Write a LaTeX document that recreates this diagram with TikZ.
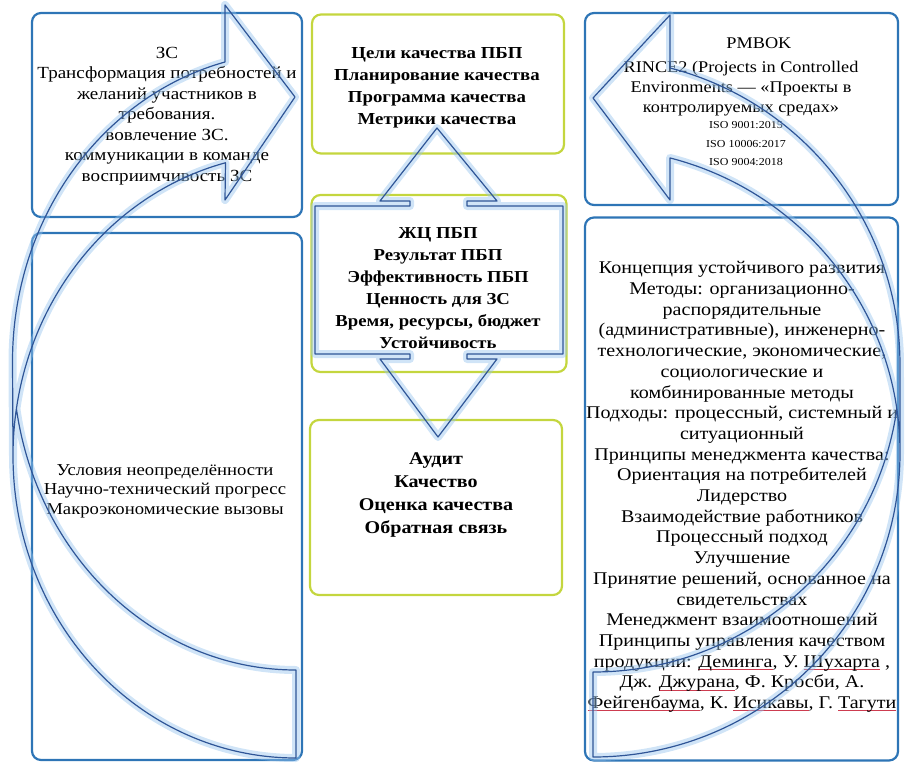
\documentclass[tikz,border=0pt]{standalone}
\usepackage{fontspec}
\setmainfont[FakeStretch=1.12]{Liberation Serif}
\definecolor{boxblue}{RGB}{46,117,182}
\definecolor{boxgreen}{RGB}{196,214,62}
\definecolor{arrowblue}{RGB}{47,85,151}
\definecolor{glowblue}{RGB}{150,196,238}
\definecolor{spellred}{RGB}{205,60,80}
\newsavebox{\spellbox}
\newcommand{\spellul}[1]{\sbox{\spellbox}{#1}\rlap{\textcolor{spellred}{\rule[-2.5pt]{\wd\spellbox}{0.8pt}}}\usebox{\spellbox}}
\tikzset{
  bluebox/.style={draw=boxblue, line width=2.2pt, rounded corners=9pt},
  greenbox/.style={draw=boxgreen, line width=2.2pt, rounded corners=9pt},
  boxtext/.style={align=center, inner sep=0pt},
  glowline/.style={draw=arrowblue, line width=1.2pt, line join=round,
    preaction={draw=glowblue, line width=8pt, opacity=0.45, line join=round}}
}
\begin{document}
\begin{tikzpicture}[x=1pt,y=-1pt]
  \useasboundingbox (0,0) rectangle (905,765);
  % boxes
  \node at (167,115) (lt) [bluebox, minimum width=270pt, minimum height=204pt] {};
  \node at (167,496.5) (lb) [bluebox, minimum width=270pt, minimum height=527pt] {};
  \node at (438,84) (mt) [greenbox, minimum width=252pt, minimum height=139pt] {};
  \node at (439,283.5) (mm) [greenbox, minimum width=255pt, minimum height=177pt] {};
  \node at (436,507.5) (mb) [greenbox, minimum width=252pt, minimum height=175pt] {};
  \node at (741.5,109) (rt) [bluebox, minimum width=313pt, minimum height=192pt] {};
  \node at (741.5,489) (rb) [bluebox, minimum width=313pt, minimum height=543pt] {};
  % texts
  \node at (167,116) (ltText) [boxtext, font=\fontsize{17}{20.5}\selectfont]
    {ЗС\\Трансформация потребностей и\\желаний участников в\\требования.\\вовлечение ЗС.\\коммуникации в команде\\восприимчивость ЗС};
  \node at (165,491) (lbText) [boxtext, font=\fontsize{16.7}{19.5}\selectfont]
    {Условия неопределённости\\Научно-технический прогресс\\Макроэкономические вызовы};
  \node at (437,88) (mtText) [boxtext, font=\bfseries\fontsize{16.8}{22}\selectfont]
    {Цели качества ПБП\\Планирование качества\\Программа качества\\Метрики качества};
  \node at (438,288) (mmText) [boxtext, font=\bfseries\fontsize{16.7}{22}\selectfont]
    {ЖЦ ПБП\\Результат ПБП\\Эффективность ПБП\\Ценность для ЗС\\Время, ресурсы, бюджет\\Устойчивость};
  \node at (436,495) (mbText) [boxtext, font=\bfseries\fontsize{17.9}{23}\selectfont]
    {Аудит\\Качество\\Оценка качества\\Обратная связь};
  \node at (741,77) (rtText) [boxtext, font=\fontsize{16.3}{20}\selectfont]
    {\hspace*{2.2em}PMBOK\\[4pt]RINCE2 (Projects in Controlled\\Environments — «Проекты в\\контролируемых средах»};
  \node at (746,144) (rtIso) [boxtext, font=\fontsize{10.7}{18.5}\selectfont]
    {ISO 9001:2015\\ISO 10006:2017\\ISO 9004:2018};
  \node at (742,487) (rbText) [boxtext, font=\fontsize{17.9}{20.7}\selectfont]
    {Концепция устойчивого развития\\Методы: организационно-\\распорядительные\\(административные), инженерно-\\технологические, экономические,\\социологические и\\комбинированные методы\\Подходы: процессный, системный и\\ситуационный\\Принципы менеджмента качества:\\Ориентация на потребителей\\Лидерство\\Взаимодействие работников\\Процессный подход\\Улучшение\\Принятие решений, основанное на\\свидетельствах\\Менеджмент взаимоотношений\\Принципы управления качеством\\продукции: \spellul{Деминга}, У. \spellul{Шухарта} ,\\Дж. \spellul{Джурана}, Ф. Кросби, А.\\\spellul{Фейгенбаума}, К. \spellul{Исикавы}, Г. \spellul{Тагути}};
  % up-down arrow over the middle box
  \draw[glowline] (315,206) -- (410,206) -- (410,201) -- (380,201) -- (437,128)
    -- (497,201) -- (467,201) -- (467,206) -- (563,206) -- (563,354)
    -- (467,354) -- (467,359) -- (497,359) -- (438,437) -- (380,359)
    -- (410,359) -- (410,354) -- (315,354) -- cycle;
  % left curved arrow
  \draw[glowline] (13,455.6) arc[start angle=180, end angle=255.57, x radius=283, y radius=302.4]
    -- (225,200) -- (295,97) -- (225,5) -- (225,62)
    arc[start angle=255.57, end angle=180, x radius=283, y radius=309]
    -- (13,455.6)
    arc[start angle=180, end angle=90, x radius=283, y radius=302.4]
    -- (296,670)
    arc[start angle=90, end angle=171.1, x radius=283, y radius=309];
  % right curved arrow
  \draw[glowline] (900,452.6) arc[start angle=360, end angle=284.53, x radius=307, y radius=304.4]
    -- (670,200) -- (593,98) -- (670,15) -- (670,68)
    arc[start angle=284.53, end angle=360, x radius=307, y radius=306.9]
    -- (900,452.6)
    arc[start angle=0, end angle=90, x radius=307, y radius=304.4]
    -- (593,672)
    arc[start angle=90, end angle=8.2, x radius=307, y radius=306.9];
\end{tikzpicture}
\end{document}
